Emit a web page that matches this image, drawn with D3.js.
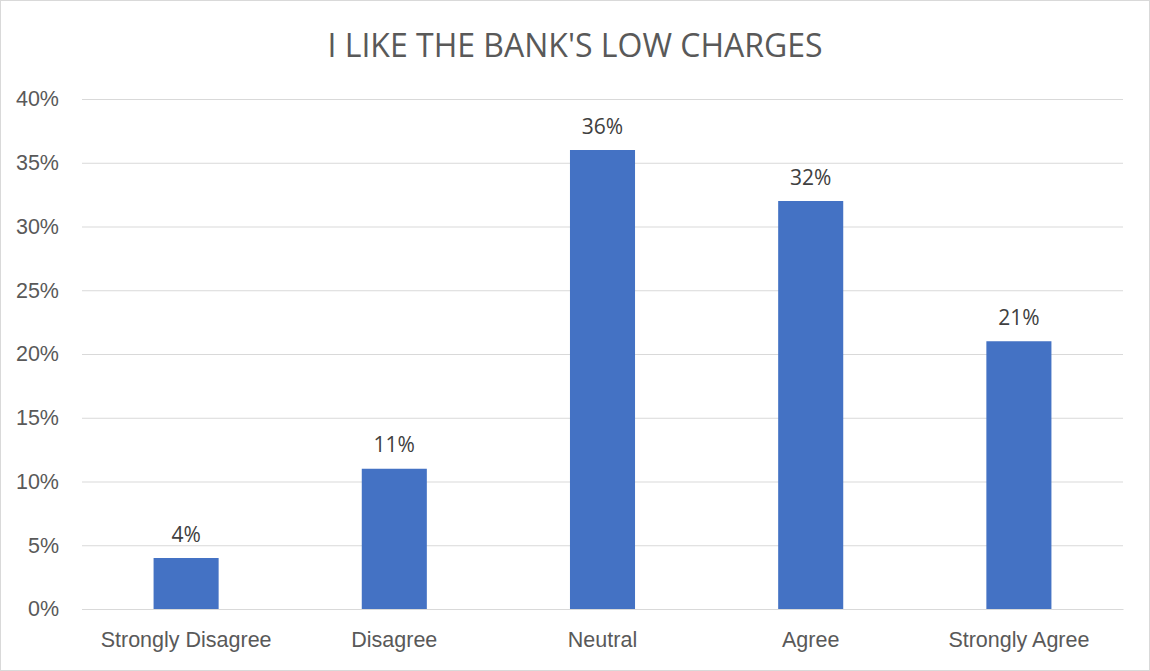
<!DOCTYPE html>
<html>
<head>
<meta charset="utf-8">
<script src="https://cdn.jsdelivr.net/npm/d3@7"></script>
<style>
  html, body { margin: 0; padding: 0; background: #fff; }
  svg { display: block; font-family: "Open Sans", "Noto Sans", sans-serif; }
</style>
</head>
<body>
<svg id="chart" width="1150" height="671"></svg>
<script>
const categories = ["Strongly Disagree", "Disagree", "Neutral", "Agree", "Strongly Agree"];
const values = [4, 11, 36, 32, 21];
const yTicks = [0, 5, 10, 15, 20, 25, 30, 35, 40];
const title = "I LIKE THE BANK'S LOW CHARGES";

const W = 1150, H = 671;
const margin = { left: 82, right: 27, top: 99, bottom: 62 };

const svg = d3.select("#chart");

// outer chart frame
svg.append("rect")
  .attr("x", 0.5).attr("y", 0.5)
  .attr("width", W - 1).attr("height", H - 1)
  .attr("fill", "#fff").attr("stroke", "#d9d9d9").attr("stroke-width", 1);

const x = d3.scaleBand()
  .domain(categories)
  .range([margin.left, W - margin.right])
  .paddingInner(0.6875)
  .paddingOuter(0.34375);

const y = d3.scaleLinear()
  .domain([0, 40])
  .range([H - margin.bottom, margin.top]);

// gridlines
const yAxis = d3.axisLeft(y)
  .tickValues(yTicks)
  .tickSize(-(W - margin.left - margin.right))
  .tickPadding(23)
  .tickFormat(d => d + "%");

const gy = svg.append("g")
  .attr("transform", `translate(${margin.left},0)`)
  .call(yAxis);
gy.select(".domain").remove();
gy.selectAll(".tick line").attr("stroke", "#d9d9d9").attr("stroke-width", 1);
gy.selectAll(".tick text")
  .attr("fill", "#595959").attr("font-size", 21.5);

// bars
svg.append("g").selectAll("rect")
  .data(values)
  .join("rect")
  .attr("x", (d, i) => x(categories[i]))
  .attr("y", d => y(d))
  .attr("width", x.bandwidth())
  .attr("height", d => y(0) - y(d))
  .attr("fill", "#4472c4");

// value labels
svg.append("g").selectAll("text")
  .data(values)
  .join("text")
  .attr("x", (d, i) => x(categories[i]) + x.bandwidth() / 2)
  .attr("y", d => y(d) - 16.5)
  .attr("text-anchor", "middle")
  .attr("fill", "#404040")
  .attr("font-size", 21)
  .text(d => d + "%");

// category axis
const xAxis = d3.axisBottom(x).tickSize(0).tickPadding(23);
const gx = svg.append("g")
  .attr("transform", `translate(0,${H - margin.bottom})`)
  .call(xAxis);
gx.select(".domain").attr("stroke", "#d9d9d9");
gx.selectAll(".tick text").attr("fill", "#595959").attr("font-size", 21.5);

// title
svg.append("text")
  .attr("x", W / 2)
  .attr("y", 56.5)
  .attr("text-anchor", "middle")
  .attr("fill", "#595959")
  .attr("font-size", 32)
  .text(title);
</script>
</body>
</html>
